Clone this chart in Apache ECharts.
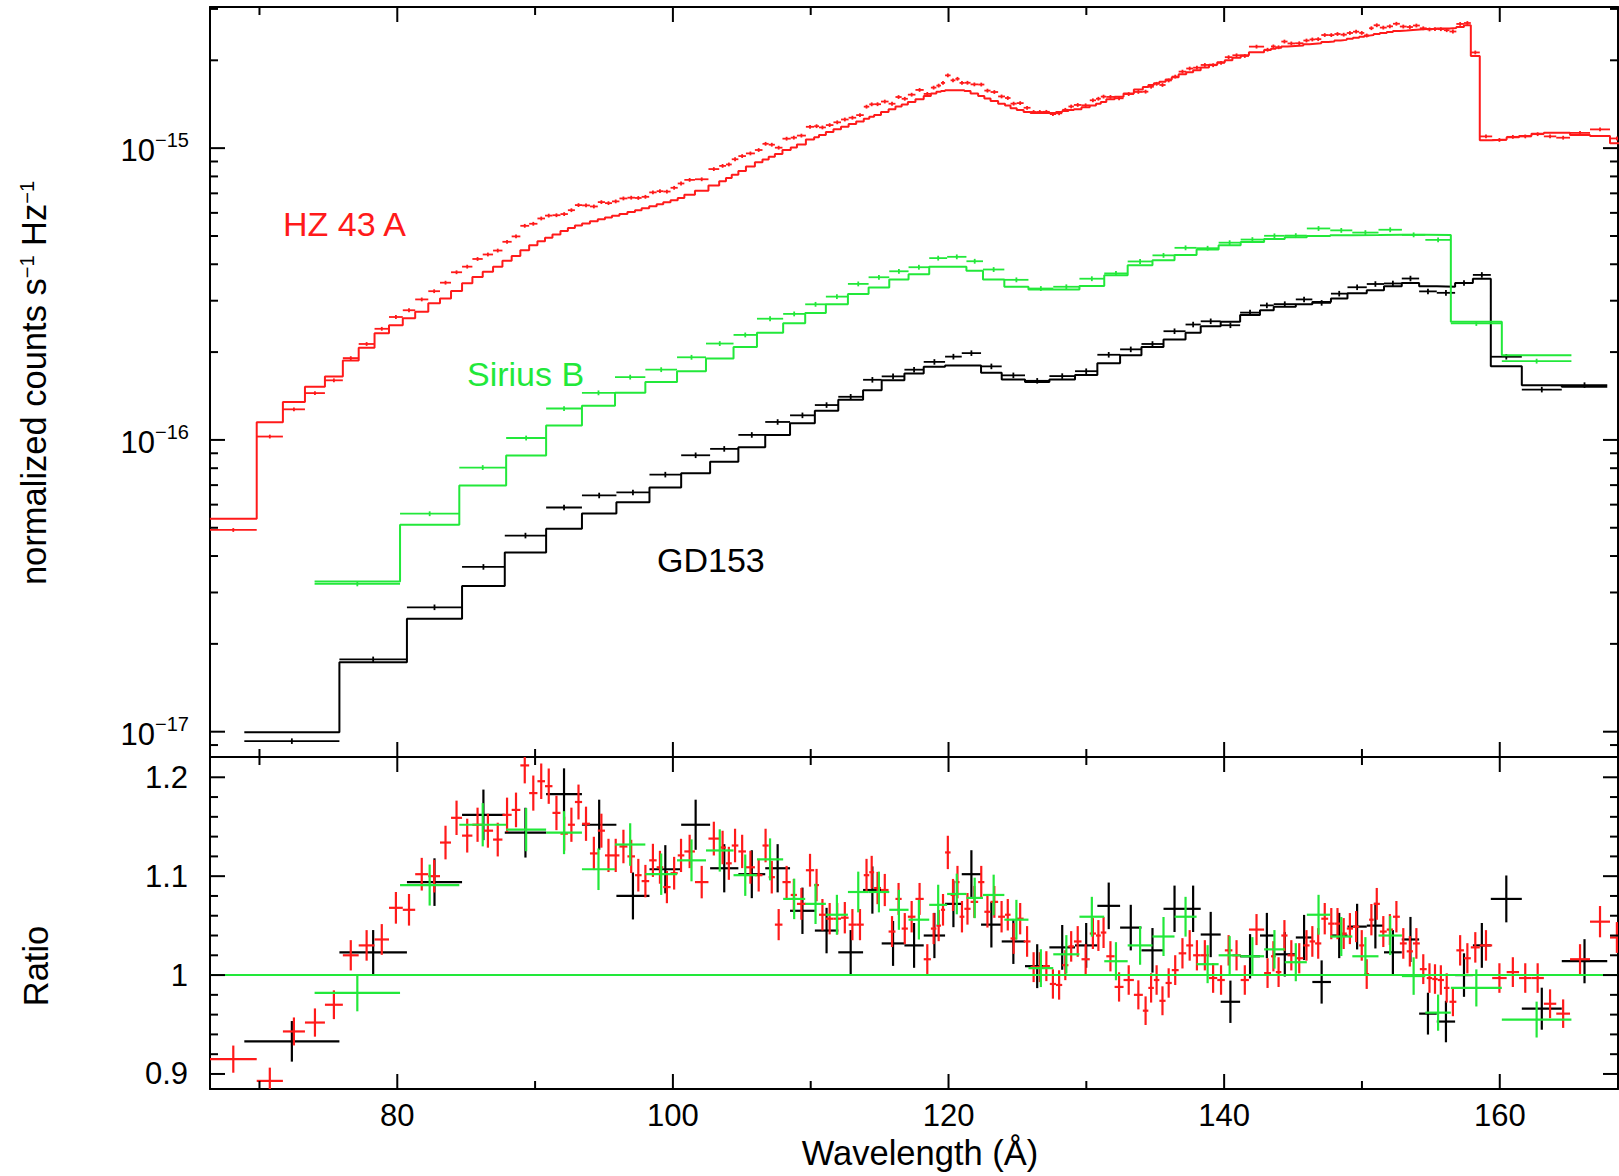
<!DOCTYPE html>
<html>
<head>
<meta charset="utf-8">
<script src="https://cdn.jsdelivr.net/npm/echarts@6/dist/echarts.min.js"></script>
<style>
html,body{margin:0;padding:0;background:#fff;}
#chart{width:1619px;height:1176px;}
</style>
</head>
<body>
<div id="chart"></div>
<script>
// ---------------- DATA ----------------
const xExtent = [66.41, 168.58];
const fluxExtent = [8.19e-18, 3.046e-15];
const ratioExtent = [0.8848, 1.2205];

// tick values
const xMajorTicks = [80, 100, 120, 140, 160];
const xMinorTicks = [70, 90, 110, 130, 150];
const fluxMajorTicks = [1e-17, 1e-16, 1e-15];
const fluxMinorTicks = [9e-18, 2e-17, 3e-17, 4e-17, 5e-17, 6e-17, 7e-17, 8e-17, 9e-17,
  2e-16, 3e-16, 4e-16, 5e-16, 6e-16, 7e-16, 8e-16, 9e-16, 2e-15, 3e-15];
const ratioMajorTicks = [0.9, 1.0, 1.1, 1.2];
const ratioMinorTicks = [0.92, 0.94, 0.96, 0.98, 1.02, 1.04, 1.06, 1.08, 1.12, 1.14, 1.16, 1.18];
const ratioReference = 1;

// HZ 43 A (red): bin edges, model (counts s^-1 Hz^-1), data/model ratio
const redEdges = [66.4, 69.8, 71.7, 73.3, 74.75, 76.05, 77.2, 78.35, 79.4, 80.4,
  81.3, 82.25, 83.1, 83.9, 84.7, 85.45, 86.2, 86.95, 87.63, 88.3,
  88.93, 89.57, 90.17, 90.72, 91.26, 91.84, 92.38, 92.89, 93.41, 93.98,
  94.55, 95.07, 95.58, 96.12, 96.7, 97.25, 97.73, 98.28, 98.82, 99.3,
  99.83, 100.35, 100.83, 101.6, 102.58, 103.36, 103.85, 104.27, 104.75, 105.3,
  105.95, 106.5, 106.95, 107.4, 107.95, 108.55, 109.0, 109.65, 110.25, 110.6,
  111.1, 111.65, 112.2, 112.75, 113.3, 113.85, 114.25, 114.6, 115.1, 115.65,
  116.15, 116.6, 117.05, 117.6, 118.2, 118.72, 119.12, 119.45, 119.75, 120.15,
  120.5, 120.8, 121.15, 121.6, 122.15, 122.6, 123.05, 123.6, 124.1, 124.5,
  124.95, 125.45, 125.95, 126.4, 126.85, 127.35, 127.8, 128.25, 128.7, 129.1,
  129.65, 130.25, 130.7, 131.05, 131.45, 132.05, 132.7, 133.45, 134.1, 134.5,
  134.9, 135.3, 135.75, 136.2, 136.7, 137.25, 137.75, 138.3, 138.9, 139.5,
  140.05, 140.6, 141.2, 141.8, 142.9, 143.4, 143.75, 144.15, 144.6, 145.15,
  145.75, 146.2, 146.6, 147.05, 147.55, 148.0, 148.45, 148.9, 149.35, 149.8,
  150.17, 150.52, 150.85, 151.3, 151.8, 152.25, 152.75, 153.25, 153.7, 154.2,
  154.7, 155.1, 155.5, 155.95, 156.35, 156.85, 157.4, 157.9, 158.55, 159.45,
  160.5, 161.4, 162.3, 163.2, 164.1, 165.1, 166.55, 168.0, 169.0];
const redModel = [5.37e-17, 1.15e-16, 1.35e-16, 1.52e-16, 1.65e-16, 1.87e-16, 2.07e-16, 2.32e-16, 2.47e-16, 2.61e-16,
  2.75e-16, 2.94e-16, 3.05e-16, 3.24e-16, 3.44e-16, 3.62e-16, 3.77e-16, 3.92e-16, 4.11e-16, 4.27e-16,
  4.47e-16, 4.65e-16, 4.80e-16, 4.93e-16, 5.06e-16, 5.20e-16, 5.32e-16, 5.43e-16, 5.52e-16, 5.62e-16,
  5.70e-16, 5.78e-16, 5.86e-16, 5.95e-16, 6.04e-16, 6.13e-16, 6.22e-16, 6.32e-16, 6.42e-16, 6.52e-16,
  6.63e-16, 6.75e-16, 6.92e-16, 7.15e-16, 7.45e-16, 7.70e-16, 7.90e-16, 8.10e-16, 8.35e-16, 8.65e-16,
  8.95e-16, 9.15e-16, 9.35e-16, 9.55e-16, 9.85e-16, 1.005e-15, 1.03e-15, 1.07e-15, 1.09e-15, 1.11e-15,
  1.135e-15, 1.16e-15, 1.185e-15, 1.21e-15, 1.235e-15, 1.26e-15, 1.28e-15, 1.30e-15, 1.33e-15, 1.36e-15,
  1.39e-15, 1.41e-15, 1.44e-15, 1.47e-15, 1.51e-15, 1.54e-15, 1.56e-15, 1.57e-15, 1.58e-15, 1.58e-15,
  1.58e-15, 1.58e-15, 1.57e-15, 1.54e-15, 1.51e-15, 1.48e-15, 1.45e-15, 1.42e-15, 1.40e-15, 1.37e-15,
  1.35e-15, 1.33e-15, 1.32e-15, 1.32e-15, 1.32e-15, 1.32e-15, 1.33e-15, 1.34e-15, 1.35e-15, 1.36e-15,
  1.38e-15, 1.40e-15, 1.42e-15, 1.44e-15, 1.47e-15, 1.50e-15, 1.54e-15, 1.59e-15, 1.62e-15, 1.645e-15,
  1.67e-15, 1.69e-15, 1.72e-15, 1.75e-15, 1.79e-15, 1.82e-15, 1.85e-15, 1.89e-15, 1.93e-15, 1.97e-15,
  2.00e-15, 2.04e-15, 2.08e-15, 2.13e-15, 2.17e-15, 2.19e-15, 2.21e-15, 2.23e-15, 2.24e-15, 2.25e-15,
  2.27e-15, 2.28e-15, 2.29e-15, 2.31e-15, 2.32e-15, 2.34e-15, 2.35e-15, 2.37e-15, 2.39e-15, 2.41e-15,
  2.43e-15, 2.44e-15, 2.46e-15, 2.48e-15, 2.50e-15, 2.52e-15, 2.53e-15, 2.54e-15, 2.55e-15, 2.56e-15,
  2.56e-15, 2.57e-15, 2.57e-15, 2.57e-15, 2.58e-15, 2.60e-15, 2.64e-15, 2.07e-15, 1.065e-15, 1.07e-15,
  1.09e-15, 1.10e-15, 1.12e-15, 1.13e-15, 1.13e-15, 1.11e-15, 1.10e-15, 1.04e-15];
const redRatio = [0.915, 0.893, 0.943, 0.952, 0.970, 1.020, 1.030, 1.036, 1.068, 1.066,
  1.102, 1.100, 1.134, 1.159, 1.141, 1.152, 1.146, 1.137, 1.162, 1.167,
  1.212, 1.184, 1.196, 1.191, 1.164, 1.143, 1.152, 1.175, 1.153, 1.123,
  1.146, 1.121, 1.121, 1.130, 1.120, 1.101, 1.095, 1.116, 1.109, 1.089,
  1.103, 1.121, 1.125, 1.094, 1.138, 1.129, 1.113, 1.131, 1.125, 1.109,
  1.101, 1.131, 1.099, 1.051, 1.094, 1.081, 1.072, 1.106, 1.091, 1.061,
  1.057, 1.057, 1.058, 1.051, 1.051, 1.101, 1.104, 1.088, 1.086, 1.044,
  1.077, 1.047, 1.059, 1.077, 1.016, 1.047, 1.050, 1.066, 1.124, 1.081,
  1.094, 1.059, 1.067, 1.074, 1.094, 1.064, 1.074, 1.059, 1.061, 1.037,
  1.057, 1.034, 1.008, 1.008, 1.009, 0.991, 0.990, 1.010, 1.029, 1.034,
  1.016, 1.042, 1.040, 1.043, 1.019, 0.988, 0.995, 0.980, 0.964, 0.987,
  0.995, 0.974, 0.992, 1.005, 1.022, 1.030, 1.020, 1.020, 0.997, 0.995,
  1.025, 1.020, 0.995, 1.046, 1.002, 1.019, 1.003, 1.040, 1.020, 1.017,
  1.030, 1.034, 1.032, 1.057, 1.052, 1.052, 1.042, 1.047, 1.049, 1.030,
  1.001, 1.056, 1.072, 1.044, 1.046, 1.059, 1.032, 1.024, 1.032, 1.006,
  0.997, 0.996, 0.995, 0.987, 0.973, 1.025, 1.017, 1.028, 1.030, 0.997,
  1.003, 0.997, 0.997, 0.971, 0.961, 1.016, 1.054, 1.038];
const redRelErr = 0.015;

// Sirius B (green)
const greenEdges = [74.0, 80.2, 84.5, 87.9, 90.8, 93.4, 95.8, 98.0, 100.3, 102.4,
  104.4, 106.1, 108.0, 109.6, 111.1, 112.7, 114.2, 115.7, 117.1, 118.6,
  119.9, 121.3, 122.5, 124.05, 125.8, 127.6, 129.5, 131.3, 133.0, 134.8,
  136.4, 138.0, 139.6, 141.2, 142.9, 144.4, 146.0, 147.7, 149.3, 151.2,
  152.9, 154.6, 156.45, 160.15, 165.2];
const greenModel = [3.27e-17, 5.12e-17, 6.98e-17, 8.85e-17, 1.12e-16, 1.31e-16, 1.45e-16, 1.58e-16, 1.72e-16, 1.90e-16,
  2.08e-16, 2.33e-16, 2.51e-16, 2.72e-16, 2.92e-16, 3.16e-16, 3.33e-16, 3.55e-16, 3.70e-16, 3.92e-16,
  3.92e-16, 3.80e-16, 3.55e-16, 3.35e-16, 3.28e-16, 3.28e-16, 3.37e-16, 3.67e-16, 3.97e-16, 4.13e-16,
  4.30e-16, 4.49e-16, 4.65e-16, 4.77e-16, 4.88e-16, 4.95e-16, 5.00e-16, 5.03e-16, 5.04e-16, 5.05e-16,
  5.05e-16, 5.04e-16, 2.54e-16, 1.95e-16];
const greenRatio = [0.982, 1.091, 1.152, 1.147, 1.144, 1.107, 1.132, 1.102, 1.116, 1.126,
  1.101, 1.117, 1.077, 1.072, 1.061, 1.084, 1.084, 1.066, 1.056, 1.071,
  1.082, 1.078, 1.081, 1.056, 1.007, 1.021, 1.059, 1.014, 1.030, 1.039,
  1.059, 1.011, 1.020, 1.019, 1.026, 1.013, 1.061, 1.039, 1.019, 1.040,
  0.999, 0.962, 0.987, 0.955];
const greenRelErr = 0.019;

// GD153 (black)
const blackEdges = [68.9, 75.8, 80.7, 84.7, 87.8, 90.8, 93.4, 95.9, 98.3, 100.6,
  102.7, 104.75, 106.7, 108.5, 110.3, 112.0, 113.8, 115.15, 116.8, 118.2,
  119.75, 120.96, 122.36, 123.86, 125.55, 127.32, 129.18, 130.8, 132.45, 134.0,
  135.6, 137.2, 138.3, 139.75, 141.16, 142.6, 143.6, 145.2, 146.4, 147.75,
  148.95, 150.35, 151.6, 152.89, 154.15, 155.43, 156.76, 158.05, 159.35, 161.6,
  164.5, 167.8];
const blackModel = [9.95e-18, 1.73e-17, 2.44e-17, 3.16e-17, 4.11e-17, 4.96e-17, 5.6e-17, 6.12e-17, 6.87e-17, 7.69e-17,
  8.41e-17, 9.44e-17, 1.04e-16, 1.14e-16, 1.26e-16, 1.374e-16, 1.48e-16, 1.60e-16, 1.69e-16, 1.78e-16,
  1.80e-16, 1.80e-16, 1.70e-16, 1.61e-16, 1.58e-16, 1.61e-16, 1.67e-16, 1.83e-16, 1.95e-16, 2.08e-16,
  2.21e-16, 2.33e-16, 2.45e-16, 2.54e-16, 2.68e-16, 2.78e-16, 2.86e-16, 2.92e-16, 2.97e-16, 3.05e-16,
  3.18e-16, 3.26e-16, 3.36e-16, 3.45e-16, 3.36e-16, 3.35e-16, 3.45e-16, 3.57e-16, 1.79e-16, 1.54e-16,
  1.52e-16];
const blackRatio = [0.933, 1.023, 1.094, 1.162, 1.144, 1.183, 1.152, 1.080, 1.107, 1.152,
  1.108, 1.102, 1.108, 1.065, 1.045, 1.023, 1.086, 1.032, 1.030, 1.040,
  1.072, 1.102, 1.051, 1.034, 1.009, 1.028, 1.030, 1.070, 1.048, 1.025,
  1.067, 1.067, 1.041, 0.973, 1.019, 1.040, 1.021, 1.038, 0.993, 1.040,
  1.049, 1.050, 1.023, 1.036, 0.961, 0.953, 1.000, 1.030, 1.077, 0.966,
  1.014];
const blackRelErr = 0.022;

// ---------------- STYLE ----------------
const FONT = '"Liberation Sans", Arial, Helvetica, sans-serif';
const RED = '#ff1a1a';
const GREEN = '#22e83a';
const BLACK = '#000000';
const MAJOR_LEN = 15, MINOR_LEN = 8;

// ---------------- BUILDERS ----------------
function stepLine(edges, model) {
  const pts = [];
  for (let i = 0; i < model.length; i++) {
    pts.push([edges[i], model[i]]);
    pts.push([edges[i + 1], model[i]]);
  }
  return pts;
}
function fluxPoints(edges, model, ratio, relErr) {
  return model.map((m, i) => {
    const v = m * ratio[i];
    return [(edges[i] + edges[i + 1]) / 2, v, edges[i], edges[i + 1], v * relErr];
  });
}
function ratioPoints(edges, ratio, relErr) {
  return ratio.map((r, i) => [(edges[i] + edges[i + 1]) / 2, r, edges[i], edges[i + 1], r * relErr]);
}
function crossRender(width) {
  return function (params, api) {
    const c = api.value(0), v = api.value(1), lo = api.value(2), hi = api.value(3), e = api.value(4);
    const a = api.coord([lo, v]), b = api.coord([hi, v]);
    const t = api.coord([c, v + e]), d = api.coord([c, v - e]);
    const style = { stroke: api.visual('color'), lineWidth: width, fill: null };
    return {
      type: 'group',
      children: [
        { type: 'line', shape: { x1: a[0], y1: a[1], x2: b[0], y2: b[1] }, style: style },
        { type: 'line', shape: { x1: t[0], y1: t[1], x2: d[0], y2: d[1] }, style: style }
      ]
    };
  };
}
// x ticks: drawn inward from bottom and top edges of the grid
function xTickRender(yExt, len, width) {
  return function (params, api) {
    const v = api.value(0);
    const b = api.coord([v, yExt[0]]);
    const t = api.coord([v, yExt[1]]);
    const st = { stroke: '#000', lineWidth: width, fill: null };
    return { type: 'group', children: [
      { type: 'line', shape: { x1: b[0], y1: b[1], x2: b[0], y2: b[1] - len }, style: st },
      { type: 'line', shape: { x1: t[0], y1: t[1], x2: t[0], y2: t[1] + len }, style: st }
    ] };
  };
}
// y ticks: drawn inward from left and right edges of the grid
function yTickRender(len, width) {
  return function (params, api) {
    const v = api.value(1);
    const l = api.coord([xExtent[0], v]);
    const r = api.coord([xExtent[1], v]);
    const st = { stroke: '#000', lineWidth: width, fill: null };
    return { type: 'group', children: [
      { type: 'line', shape: { x1: l[0], y1: l[1], x2: l[0] + len, y2: l[1] }, style: st },
      { type: 'line', shape: { x1: r[0], y1: r[1], x2: r[0] - len, y2: r[1] }, style: st }
    ] };
  };
}
function xTickSeries(xi, yi, vals, yExt, len) {
  return {
    type: 'custom', xAxisIndex: xi, yAxisIndex: yi, silent: true, clip: false, z: 10,
    data: vals.map(v => [v, yExt[0]]),
    renderItem: xTickRender(yExt, len, 2)
  };
}
function yTickSeries(xi, yi, vals, len) {
  return {
    type: 'custom', xAxisIndex: xi, yAxisIndex: yi, silent: true, clip: false, z: 10,
    data: vals.map(v => [xExtent[0], v]),
    renderItem: yTickRender(len, 2)
  };
}

const axisLine = { show: true, onZero: false, lineStyle: { color: '#000', width: 2 } };
function xAx(grid, pos, labels) {
  return {
    gridIndex: grid, type: 'value', position: pos, min: xExtent[0], max: xExtent[1],
    axisLine: axisLine, axisTick: { show: false }, splitLine: { show: false },
    axisLabel: labels ? {
      show: true, fontSize: 31, fontFamily: FONT, color: '#000', margin: 11,
      showMinLabel: false, showMaxLabel: false,
      formatter: v => (Math.abs(v / 20 - Math.round(v / 20)) < 1e-6 ? String(Math.round(v)) : '')
    } : { show: false }
  };
}

const chart = echarts.init(document.getElementById('chart'), null, { renderer: 'svg', width: 1619, height: 1176 });

const TITLE = '34.5px ' + FONT;
const ANN = '34px ' + FONT;

const option = {
  animation: false,
  backgroundColor: '#fff',
  grid: [
    { left: 210, top: 7, width: 1408, height: 750, containLabel: false, outerBoundsMode: 'none' },
    { left: 210, top: 757, width: 1408, height: 332, containLabel: false, outerBoundsMode: 'none' }
  ],
  xAxis: [xAx(0, 'bottom', false), xAx(0, 'top', false), xAx(1, 'bottom', true), xAx(1, 'top', false)],
  yAxis: [
    {
      gridIndex: 0, type: 'log', logBase: 10, position: 'left', min: fluxExtent[0], max: fluxExtent[1],
      axisLine: axisLine, axisTick: { show: false }, splitLine: { show: false }, minorTick: { show: false },
      axisLabel: {
        show: true, margin: 21, showMinLabel: false, showMaxLabel: false,
        formatter: function (v) {
          const L = Math.log10(v), e = Math.round(L);
          if (Math.abs(L - e) > 1e-6) return '';
          return '{b|10}{s|\u2212' + (-e) + '}';
        },
        rich: {
          b: { fontSize: 31, fontFamily: FONT, color: '#000', verticalAlign: 'bottom', lineHeight: 36 },
          s: { fontSize: 20, fontFamily: FONT, color: '#000', verticalAlign: 'top', lineHeight: 20 }
        }
      }
    },
    {
      gridIndex: 0, type: 'log', logBase: 10, position: 'right', min: fluxExtent[0], max: fluxExtent[1],
      axisLine: axisLine, axisTick: { show: false }, splitLine: { show: false }, axisLabel: { show: false }
    },
    {
      gridIndex: 1, type: 'value', position: 'left', min: ratioExtent[0], max: ratioExtent[1],
      axisLine: axisLine, axisTick: { show: false }, splitLine: { show: false },
      axisLabel: {
        show: true, fontSize: 31, fontFamily: FONT, color: '#000', margin: 22,
        showMinLabel: false, showMaxLabel: false,
        formatter: function (v) {
          const k = Math.round(v * 10);
          if (Math.abs(v * 10 - k) > 1e-6) return '';
          return k === 10 ? '1' : (k / 10).toFixed(1);
        }
      }
    },
    {
      gridIndex: 1, type: 'value', position: 'right', min: ratioExtent[0], max: ratioExtent[1],
      axisLine: axisLine, axisTick: { show: false }, splitLine: { show: false }, axisLabel: { show: false }
    }
  ],
  graphic: [
    { type: 'text', x: 283, y: 224, style: { text: 'HZ 43 A', fill: RED, font: ANN, textAlign: 'left', textVerticalAlign: 'middle', align: 'left', verticalAlign: 'middle' } },
    { type: 'text', x: 467, y: 374, style: { text: 'Sirius B', fill: GREEN, font: ANN, textAlign: 'left', textVerticalAlign: 'middle', align: 'left', verticalAlign: 'middle' } },
    { type: 'text', x: 657, y: 560, style: { text: 'GD153', fill: BLACK, font: ANN, textAlign: 'left', textVerticalAlign: 'middle', align: 'left', verticalAlign: 'middle' } },
    { type: 'text', x: 34, y: 383, rotation: Math.PI / 2,
      style: { text: 'normalized counts s{s|\u22121} Hz{s|\u22121}', fill: '#000', font: TITLE,
        textAlign: 'center', textVerticalAlign: 'middle', align: 'center', verticalAlign: 'middle',
        rich: { s: { fontSize: 20, fontFamily: FONT, fill: '#000', color: '#000', verticalAlign: 'top' } } } },
    { type: 'text', x: 36, y: 966, rotation: Math.PI / 2,
      style: { text: 'Ratio', fill: '#000', font: TITLE, textAlign: 'center', textVerticalAlign: 'middle', align: 'center', verticalAlign: 'middle' } },
    { type: 'text', x: 920, y: 1153,
      style: { text: 'Wavelength (\u00C5)', fill: '#000', font: TITLE, textAlign: 'center', textVerticalAlign: 'middle', align: 'center', verticalAlign: 'middle' } }
  ],
  series: [
    // ----- top panel -----
    { type: 'line', xAxisIndex: 0, yAxisIndex: 0, data: stepLine(blackEdges, blackModel), showSymbol: false, symbol: 'none', clip: true,
      lineStyle: { color: BLACK, width: 2 }, itemStyle: { color: BLACK }, z: 3 },
    { type: 'custom', xAxisIndex: 0, yAxisIndex: 0, data: fluxPoints(blackEdges, blackModel, blackRatio, blackRelErr),
      renderItem: crossRender(1.8), itemStyle: { color: BLACK }, clip: true, z: 3 },
    { type: 'line', xAxisIndex: 0, yAxisIndex: 0, data: stepLine(redEdges, redModel), showSymbol: false, symbol: 'none', clip: true,
      lineStyle: { color: RED, width: 2 }, itemStyle: { color: RED }, z: 4 },
    { type: 'custom', xAxisIndex: 0, yAxisIndex: 0, data: fluxPoints(redEdges, redModel, redRatio, redRelErr),
      renderItem: crossRender(1.8), itemStyle: { color: RED }, clip: true, z: 4 },
    { type: 'line', xAxisIndex: 0, yAxisIndex: 0, data: stepLine(greenEdges, greenModel), showSymbol: false, symbol: 'none', clip: true,
      lineStyle: { color: GREEN, width: 2 }, itemStyle: { color: GREEN }, z: 5 },
    { type: 'custom', xAxisIndex: 0, yAxisIndex: 0, data: fluxPoints(greenEdges, greenModel, greenRatio, greenRelErr),
      renderItem: crossRender(1.8), itemStyle: { color: GREEN }, clip: true, z: 5 },
    xTickSeries(0, 0, xMajorTicks, fluxExtent, MAJOR_LEN),
    xTickSeries(0, 0, xMinorTicks, fluxExtent, MINOR_LEN),
    yTickSeries(0, 0, fluxMajorTicks, MAJOR_LEN),
    yTickSeries(0, 0, fluxMinorTicks, MINOR_LEN),
    // ----- bottom panel -----
    { type: 'custom', xAxisIndex: 2, yAxisIndex: 2, data: ratioPoints(blackEdges, blackRatio, blackRelErr),
      renderItem: crossRender(2.2), itemStyle: { color: BLACK }, clip: true, z: 3 },
    { type: 'custom', xAxisIndex: 2, yAxisIndex: 2, data: ratioPoints(redEdges, redRatio, redRelErr),
      renderItem: crossRender(2.2), itemStyle: { color: RED }, clip: true, z: 4 },
    { type: 'custom', xAxisIndex: 2, yAxisIndex: 2, data: ratioPoints(greenEdges, greenRatio, greenRelErr),
      renderItem: crossRender(2.2), itemStyle: { color: GREEN }, clip: true, z: 5,
      markLine: { silent: true, symbol: ['none', 'none'], label: { show: false },
        lineStyle: { color: GREEN, width: 2, type: 'solid' }, data: [{ yAxis: ratioReference }] } },
    xTickSeries(2, 2, xMajorTicks, ratioExtent, MAJOR_LEN),
    xTickSeries(2, 2, xMinorTicks, ratioExtent, MINOR_LEN),
    yTickSeries(2, 2, ratioMajorTicks, MAJOR_LEN),
    yTickSeries(2, 2, ratioMinorTicks, MINOR_LEN)
  ]
};
chart.setOption(option);
</script>
</body>
</html>
